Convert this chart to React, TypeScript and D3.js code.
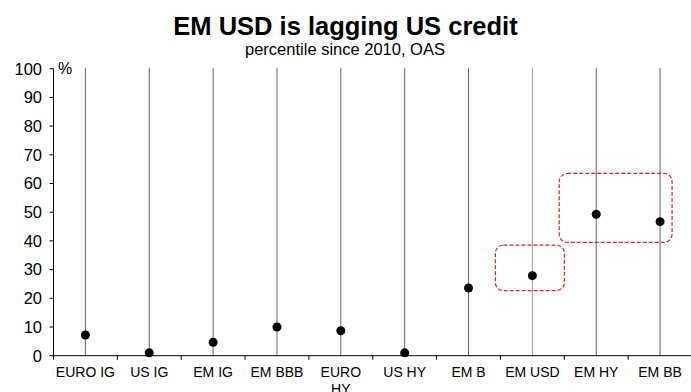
import React from "react";
import * as d3 from "d3";

const categories = ["EURO IG", "US IG", "EM IG", "EM BBB", "EURO HY", "US HY", "EM B", "EM USD", "EM HY", "EM BB"];
const values = [7.2, 1.0, 4.7, 10.0, 8.7, 1.0, 23.6, 27.9, 49.3, 46.7];
const yTicks = [0, 10, 20, 30, 40, 50, 60, 70, 80, 90, 100];
const highlightGroups = [["EM USD"], ["EM HY", "EM BB"]];
const highlightRanges = [[22.7, 38.5], [39.5, 63.5]];

const W = 691, H = 392;
const left = 53.5, right = 692, top = 68.7, bottom = 355.7;
const font = "Arial, 'Liberation Sans', sans-serif";

export default function App() {
  const x = d3.scaleBand<string>().domain(categories).range([left, right]).padding(0);
  const y = d3.scaleLinear().domain([0, 100]).range([bottom, top]);
  const cx = (c: string) => (x(c) as number) + x.bandwidth() / 2;

  return (
    <svg width={W} height={H} style={{ position: "absolute", left: 0, top: 0 }} fontFamily={font}>
      <rect width={W} height={H} fill="#fff" />
      <text x={345.5} y={35} textAnchor="middle" fontSize={25.5} fontWeight="bold">EM USD is lagging US credit</text>
      <text x={345} y={55} textAnchor="middle" fontSize={16.5}>percentile since 2010, OAS</text>

      {categories.map((c, i) => (
        <line key={c} x1={cx(c)} x2={cx(c)} y1={top - 0.7} y2={bottom}
          stroke={c === "EM USD" ? "#999" : "#666"} strokeWidth={1} />
      ))}

      {/* y axis */}
      <line x1={left} x2={left} y1={top} y2={bottom} stroke="#000" strokeWidth={1} />
      {yTicks.map(t => (
        <g key={t}>
          <line x1={left - 4} x2={left} y1={y(t)} y2={y(t)} stroke="#000" />
          <text x={42} y={y(t) + 5.8} textAnchor="end" fontSize={16.5}>{t}</text>
        </g>
      ))}
      <text x={58} y={74} fontSize={16}>%</text>

      {/* x axis */}
      <line x1={left} x2={right} y1={bottom} y2={bottom} stroke="#000" />
      {categories.map((c, i) => (
        <line key={c} x1={(x(c) as number)} x2={(x(c) as number)} y1={bottom} y2={bottom + 4} stroke="#000" />
      ))}
      {categories.map(c => {
        const parts = c === "EURO HY" ? ["EURO", "HY"] : [c];
        return (
          <text key={c} x={cx(c)} y={377} textAnchor="middle" fontSize={14}>
            {parts.map((p, j) => (
              <tspan key={j} x={cx(c)} dy={j === 0 ? 0 : 17}>{p}</tspan>
            ))}
          </text>
        );
      })}

      {/* dots */}
      {categories.map((c, i) => (
        <circle key={c} cx={cx(c)} cy={y(values[i])} r={4.5} fill="#000" />
      ))}

      {/* highlight boxes */}
      {highlightGroups.map((g, i) => {
        const x0 = cx(g[0]) - 37;
        const x1 = cx(g[g.length - 1]) + (g.length > 1 ? 12 : 32);
        const y0 = y(highlightRanges[i][1]);
        const y1 = y(highlightRanges[i][0]);
        return (
          <rect key={i} x={x0} y={y0} width={x1 - x0} height={y1 - y0} rx={8} ry={8}
            fill="none" stroke="#d7262b" strokeWidth={1.2} strokeDasharray="4,2" />
        );
      })}
    </svg>
  );
}
